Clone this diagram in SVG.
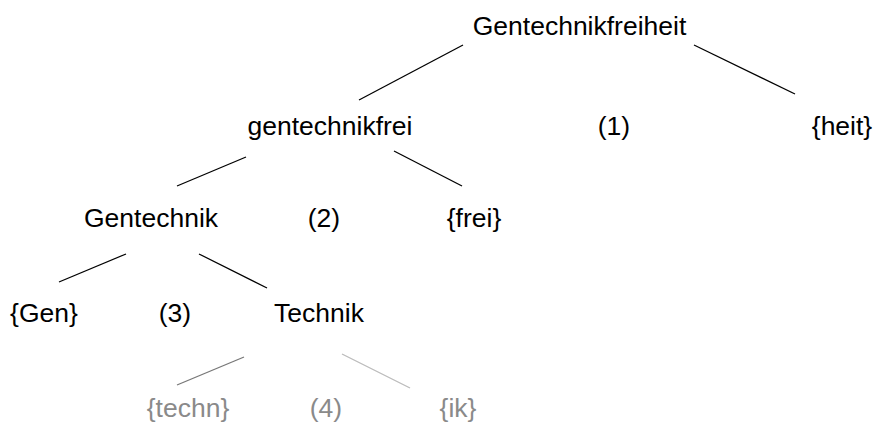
<svg xmlns="http://www.w3.org/2000/svg" width="878" height="427" viewBox="0 0 878 427">
<style>
text{font-family:"Liberation Sans",Arial,sans-serif;font-size:26.5px;text-anchor:middle;fill:#000}
text.g{fill:#8a8a8a}
line{stroke:#000;stroke-width:1.3}
line.g1{stroke:#777}
line.g2{stroke:#bbb}
</style>
<rect width="878" height="427" fill="#fff"/>
<g id="connectors">
<line x1="463" y1="45" x2="359" y2="100"/>
<line x1="694" y1="45" x2="795" y2="94"/>
<line x1="246" y1="157" x2="177" y2="186"/>
<line x1="394" y1="151" x2="462" y2="186"/>
<line x1="126" y1="254" x2="59" y2="282"/>
<line x1="199" y1="254" x2="267" y2="288"/>
<line class="g1" x1="244" y1="357" x2="177" y2="385"/>
<line class="g2" x1="342" y1="354" x2="410" y2="388"/>
</g>
<g id="n-gentechnikfreiheit"><text x="579.5" y="35">Gentechnikfreiheit</text></g>
<g id="n-gentechnikfrei"><text x="330" y="135">gentechnikfrei</text></g>
<g id="n-1"><text x="614" y="135">(1)</text></g>
<g id="n-heit"><text x="842" y="135">{heit}</text></g>
<g id="n-gentechnik"><text x="151" y="227">Gentechnik</text></g>
<g id="n-2"><text x="324" y="227">(2)</text></g>
<g id="n-frei"><text x="474" y="227">{frei}</text></g>
<g id="n-gen"><text x="44" y="322">{Gen}</text></g>
<g id="n-3"><text x="175" y="322">(3)</text></g>
<g id="n-technik"><text x="319" y="322">Technik</text></g>
<g id="n-techn"><text class="g" x="188" y="417">{techn}</text></g>
<g id="n-4"><text class="g" x="326" y="417">(4)</text></g>
<g id="n-ik"><text class="g" x="458" y="417">{ik}</text></g>
</svg>
